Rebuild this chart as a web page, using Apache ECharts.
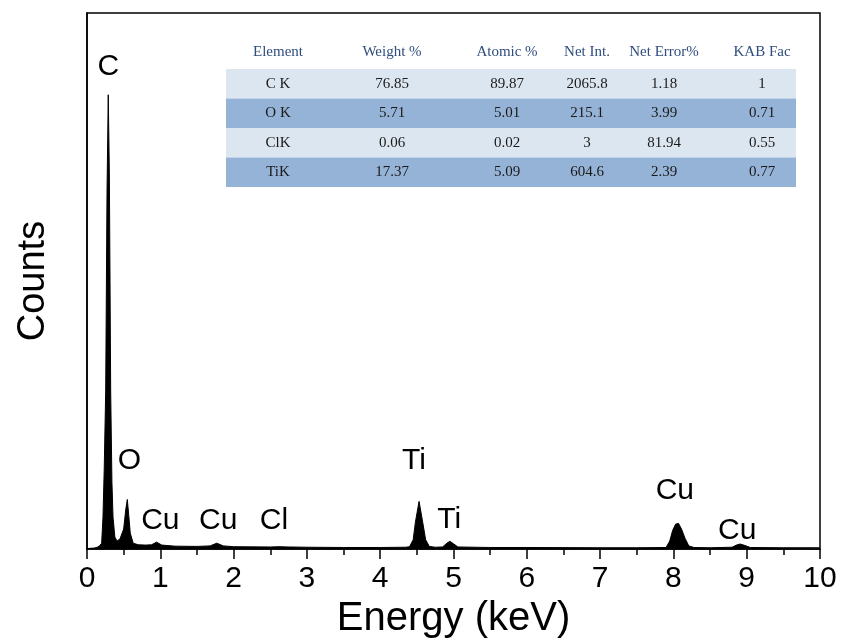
<!DOCTYPE html>
<html>
<head>
<meta charset="utf-8">
<script src="https://cdn.jsdelivr.net/npm/echarts@6/dist/echarts.min.js"></script>
<style>
html,body{margin:0;padding:0;background:#fff;}
#chart{width:841px;height:644px;}
</style>
</head>
<body>
<div id="chart"></div>
<script>
// Spectrum (energy in keV, counts in arbitrary units)
var energy = [0.00,0.05,0.10,0.14,0.17,0.20,0.218,0.235,0.255,0.273,0.29,0.305,0.314,0.323,0.34,0.355,0.38,0.41,0.45,0.50,0.53,0.55,0.57,0.59,0.63,0.70,0.80,0.88,0.95,1.02,1.20,1.50,1.68,1.77,1.86,2.00,2.50,2.62,2.75,3.00,3.50,4.00,4.35,4.40,4.45,4.48,4.53,4.58,4.62,4.67,4.75,4.85,4.91,4.95,5.00,5.06,5.50,6.00,7.00,7.50,7.90,7.95,7.99,8.03,8.07,8.11,8.16,8.21,8.28,8.50,8.80,8.86,8.91,8.97,9.05,9.50,10.00];
var counts = [2,3,4,7,12,22,119,300,590,1331,1695,1400,1000,590,250,119,45,30,38,75,150,185,125,60,22,16,15,16,26,15,11,10,12,22,12,9,8,9,8,7,6,6,7,9,35,100,178,100,35,10,7,8,22,29,20,8,6,6,5,5,6,30,70,93,96,75,40,12,6,5,7,15,19,14,6,5,5];

// Peak annotations
var peakLabels = ["C","O","Cu","Cu","Cl","Ti","Ti","Cu","Cu"];
var peakLabelX = [0.29,0.58,1.00,1.79,2.55,4.46,4.94,8.02,8.87];
var peakLabelY = [1800,330,107,107,104,330,111,219,70];

// Axis ticks
var xTicks = [0,1,2,3,4,5,6,7,8,9,10];

// Inset table
var tableHeader = ["Element","Weight %","Atomic %","Net Int.","Net Error%","KAB Fac"];
var colElement = ["C K","O K","ClK","TiK"];
var colWeight = ["76.85","5.71","0.06","17.37"];
var colAtomic = ["89.87","5.01","0.02","5.09"];
var colNetInt = ["2065.8","215.1","3","604.6"];
var colNetErr = ["1.18","3.99","81.94","2.39"];
var colKab = ["1","0.71","0.55","0.77"];

var spectrum = energy.map(function(e,i){return [e, counts[i]];});
var labelData = peakLabels.map(function(t,i){return {name:t, value:[peakLabelX[i], peakLabelY[i]]};});

// table layout
var tableLeft = 226, tableRight = 796, bandTop = 69, rowH = 29.5, headerY = 52;
var colCenters = [278, 392, 507, 587, 664, 762];
var columns = [colElement,colWeight,colAtomic,colNetInt,colNetErr,colKab];
var graphics = [];
for (var r = 0; r < colElement.length; r++) {
  graphics.push({type:'rect', left: tableLeft, top: bandTop + r*rowH, silent:true,
    shape:{width: tableRight-tableLeft, height: rowH},
    style:{fill: r%2===0 ? '#dce6f1' : '#95b3d7'}});
}
tableHeader.forEach(function(h,c){
  graphics.push({type:'text', x: colCenters[c], y: headerY, silent:true,
    style:{text:h, fill:'#2f4d7e', font:'15px "Liberation Serif", "Times New Roman", serif', textAlign:'center', textVerticalAlign:'middle'}});
});
columns.forEach(function(col,c){
  col.forEach(function(v,r){
    graphics.push({type:'text', x: colCenters[c], y: bandTop + r*rowH + rowH/2, silent:true,
      style:{text:v, fill:'#1a1a1a', font:'15px "Liberation Serif", "Times New Roman", serif', textAlign:'center', textVerticalAlign:'middle'}});
  });
});

var chart = echarts.init(document.getElementById('chart'));
chart.setOption({
  animation:false,
  backgroundColor:'#ffffff',
  grid:{left:87, right:21, top:13, bottom:92, show:true, borderColor:'#000', borderWidth:1.5, backgroundColor:'transparent'},
  xAxis:{
    type:'value', min:0, max:10, interval:1,
    name:'Energy (keV)', nameLocation:'middle', nameGap:30,
    nameTextStyle:{fontSize:40, color:'#000', fontFamily:'"Liberation Sans", Arial, sans-serif', verticalAlign:'top'},
    axisLine:{show:true, onZero:false, lineStyle:{color:'#000', width:1.5}},
    axisTick:{show:true, inside:false, length:10, lineStyle:{color:'#000', width:1.5}},
    minorTick:{show:true, splitNumber:2, length:6, lineStyle:{color:'#000', width:1.5}},
    axisLabel:{show:true, margin:15, fontSize:30, color:'#000', fontFamily:'"Liberation Sans", Arial, sans-serif',
      formatter:function(v){return xTicks.indexOf(v)>=0 ? String(v) : '';}},
    splitLine:{show:false}
  },
  yAxis:{
    type:'value', min:0, max:2000,
    name:'Counts', nameLocation:'middle', nameGap:34, nameRotate:90,
    nameTextStyle:{fontSize:38, color:'#000', fontFamily:'"Liberation Sans", Arial, sans-serif'},
    axisLine:{show:true, lineStyle:{color:'#000', width:1.5}},
    axisTick:{show:false}, axisLabel:{show:false}, splitLine:{show:false}
  },
  graphic: graphics,
  series:[
    {type:'line', data:spectrum, symbol:'none', smooth:false,
      lineStyle:{color:'#000', width:1}, areaStyle:{color:'#000', opacity:1}, z:2},
    {type:'scatter', data:labelData, symbolSize:0, z:3, itemStyle:{opacity:1},
      label:{show:true, position:'inside', formatter:'{b}', fontSize:30, color:'#000', opacity:1,
        fontFamily:'"Liberation Sans", Arial, sans-serif'}}
  ]
});
</script>
</body>
</html>
